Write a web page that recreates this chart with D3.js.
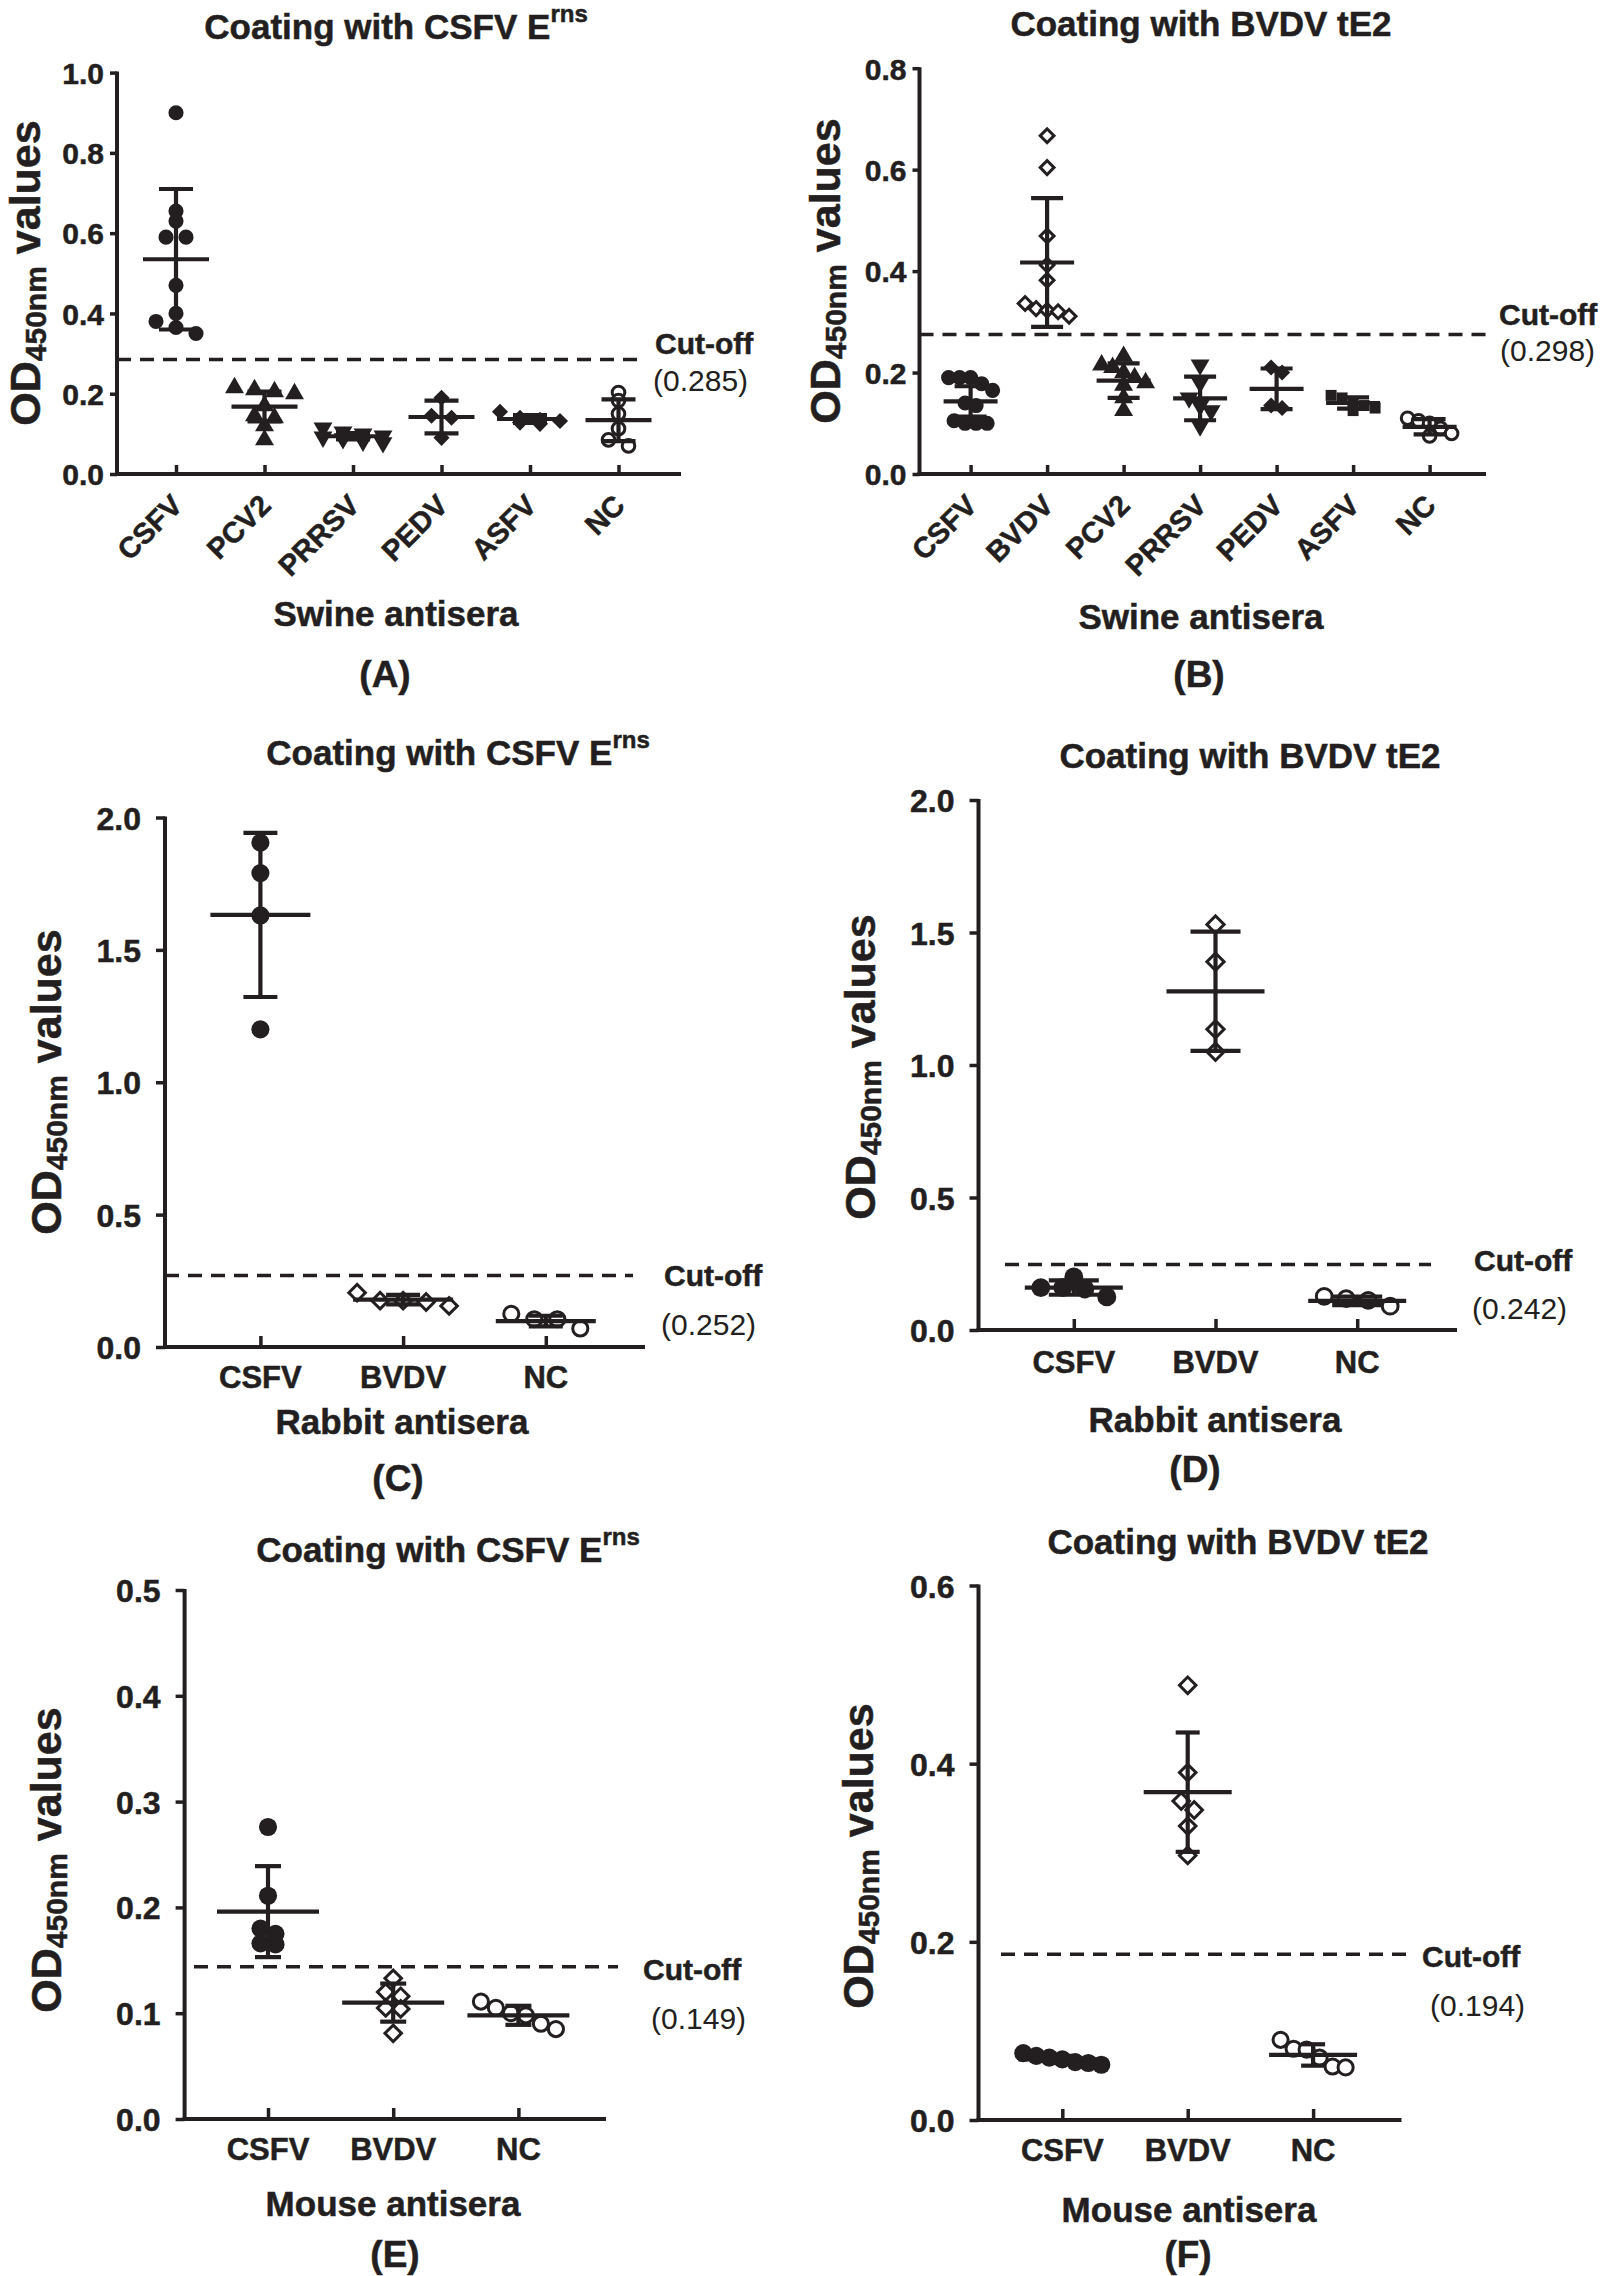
<!DOCTYPE html>
<html><head><meta charset="utf-8">
<script src="https://cdn.jsdelivr.net/npm/d3@7"></script>
<style>
html,body{margin:0;padding:0;background:#fff;}
svg{display:block;}
text{font-family:"Liberation Sans",Arial,Helvetica,sans-serif;fill:#231f20;}
</style></head>
<body>
<svg id="chart" width="1600" height="2276"></svg>
<script>
// ---------------- DATA ----------------
const panelLetters = ["(A)","(B)","(C)","(D)","(E)","(F)"];
const titleMain = ["Coating with CSFV E","Coating with BVDV tE2","Coating with CSFV E","Coating with BVDV tE2","Coating with CSFV E","Coating with BVDV tE2"];
const titleSup  = ["rns","","rns","","rns",""];
const xTitles   = ["Swine antisera","Swine antisera","Rabbit antisera","Rabbit antisera","Mouse antisera","Mouse antisera"];

const catsA = ["CSFV","PCV2","PRRSV","PEDV","ASFV","NC"];
const catsB = ["CSFV","BVDV","PCV2","PRRSV","PEDV","ASFV","NC"];
const catsC = ["CSFV","BVDV","NC"];
const catsD = ["CSFV","BVDV","NC"];
const catsE = ["CSFV","BVDV","NC"];
const catsF = ["CSFV","BVDV","NC"];

const symA = ["dot","triUp","triDown","diamond","diamond","ring"];
const symB = ["dot","openDiamond","triUp","triDown","diamond","square","ring"];
const symCF = ["dot","openDiamond","ring"];

// individual OD450nm values per group
const valuesA = [
  [0.90,0.655,0.63,0.59,0.59,0.47,0.40,0.38,0.365,0.35],
  [0.215,0.21,0.205,0.20,0.17,0.145,0.14,0.12,0.085],
  [0.115,0.105,0.10,0.095,0.092,0.088,0.082,0.078],
  [0.19,0.145,0.14,0.09],
  [0.155,0.14,0.135,0.132,0.128,0.125],
  [0.203,0.183,0.15,0.113,0.085,0.07]
];
const meansA = [0.535,0.168,0.094,0.142,0.137,0.134];
const sdsA   = [0.175,0.037,0.008,0.041,0.010,0.052];

const valuesB = [
  [0.19,0.19,0.19,0.178,0.165,0.14,0.135,0.105,0.10,0.10,0.10],
  [0.667,0.604,0.469,0.412,0.382,0.336,0.326,0.323,0.32,0.311],
  [0.232,0.215,0.21,0.20,0.19,0.18,0.175,0.15,0.125],
  [0.215,0.18,0.15,0.135,0.125,0.095],
  [0.21,0.20,0.135,0.13],
  [0.155,0.15,0.14,0.135,0.13,0.125],
  [0.11,0.105,0.10,0.09,0.08,0.075]
];
const meansB = [0.143,0.417,0.184,0.149,0.168,0.140,0.093];
const sdsB   = [0.030,0.127,0.034,0.043,0.040,0.011,0.015];

const valuesC = [[1.905,1.79,1.63,1.20],[0.205,0.175,0.175,0.17,0.155],[0.125,0.105,0.105,0.07]];
const meansC = [1.632,0.179,0.098];
const sdsC   = [0.310,0.018,0.020];

const valuesD = [[0.20,0.16,0.16,0.155,0.125],[1.53,1.39,1.135,1.05],[0.127,0.118,0.112,0.09]];
const meansD = [0.160,1.278,0.110];
const sdsD   = [0.027,0.225,0.016];

const valuesE = [[0.276,0.211,0.18,0.175,0.166,0.165],[0.133,0.12,0.116,0.105,0.104,0.081],[0.111,0.105,0.10,0.098,0.09,0.085]];
const meansE = [0.196,0.110,0.098];
const sdsE   = [0.043,0.018,0.009];

const valuesF = [[0.075,0.072,0.07,0.068,0.065,0.064,0.062],[0.488,0.39,0.358,0.348,0.33,0.297],[0.09,0.08,0.079,0.07,0.06,0.059]];
const meansF = [0.068,0.368,0.073];
const sdsF   = [0.004,0.067,0.012];

const yTicksA = [0,0.2,0.4,0.6,0.8,1.0];
const yTicksB = [0,0.2,0.4,0.6,0.8];
const yTicksC = [0,0.5,1.0,1.5,2.0];
const yTicksD = [0,0.5,1.0,1.5,2.0];
const yTicksE = [0,0.1,0.2,0.3,0.4,0.5];
const yTicksF = [0,0.2,0.4,0.6];

const cutoffLines  = [0.285,0.275,0.27,0.247,0.144,0.186];
const cutoffLabels = ["(0.285)","(0.298)","(0.252)","(0.242)","(0.149)","(0.194)"];

// ---------------- LAYOUT ----------------
const layout = [
 {ax:117, y0:474, yTop:72.6, c0:176, step:88.5, axEnd:681, dash:[117,640], tick:7, pad:6, tf:30, cf:29, rot:true,
  title:[396,26], yt:[25,273], xt:[396,613], let:[385,674], cut:[655,343], par:[653,380], mhw:33, chw:17,
  s:20, h:8, maxN:4, ms:1},
 {ax:919.5, y0:474, yTop:68.2, c0:970.6, step:76.5, axEnd:1486, dash:[919.5,1491], tick:7, pad:6, tf:30, cf:29, rot:true,
  title:[1201,23], yt:[825,271], xt:[1201,616], let:[1199,674], cut:[1499,314], par:[1500,350], mhw:27, chw:16,
  s:11, h:8, maxN:5, ms:1},
 {ax:165, y0:1347, yTop:817.5, c0:260.4, step:142.7, axEnd:645, dash:[165,633], tick:9, pad:15, tf:32, cf:31, rot:false, catY:1377,
  title:[458,752], yt:[46,1082], xt:[402,1421], let:[398,1478], cut:[664,1275], par:[661,1324], mhw:50, chw:17,
  s:23, h:10, maxN:6, ms:1.2},
 {ax:978.5, y0:1330, yTop:800, c0:1073.8, step:141.7, axEnd:1457, dash:[1005,1431], tick:9, pad:15, tf:32, cf:31, rot:false, catY:1362,
  title:[1250,755], yt:[860,1067], xt:[1215,1419], let:[1195,1469], cut:[1474,1260], par:[1472,1308], mhw:49, chw:25,
  s:22, h:9, maxN:6, ms:1.25},
 {ax:184.6, y0:2119, yTop:1590, c0:268, step:125.2, axEnd:606, dash:[194,618], tick:9, pad:15, tf:32, cf:31, rot:false, catY:2149,
  title:[448,1549], yt:[46,1860], xt:[393,2203], let:[395,2254], cut:[643,1969], par:[651,2018], mhw:51, chw:13,
  s:15, h:9, maxN:6, ms:1.2},
 {ax:978.5, y0:2120, yTop:1585.5, c0:1062.3, step:125.4, axEnd:1401.5, dash:[1001,1410], tick:9, pad:15, tf:32, cf:31, rot:false, catY:2150,
  title:[1238,1541], yt:[858,1856], xt:[1189,2209], let:[1188,2254], cut:[1422,1956], par:[1430,2005], mhw:44, chw:12,
  s:13, h:9.5, maxN:7, ms:1.2}
];

const panels = [
 {cats:catsA, vals:valuesA, means:meansA, sds:sdsA, ticks:yTicksA, sym:symA},
 {cats:catsB, vals:valuesB, means:meansB, sds:sdsB, ticks:yTicksB, sym:symB},
 {cats:catsC, vals:valuesC, means:meansC, sds:sdsC, ticks:yTicksC, sym:symCF},
 {cats:catsD, vals:valuesD, means:meansD, sds:sdsD, ticks:yTicksD, sym:symCF},
 {cats:catsE, vals:valuesE, means:meansE, sds:sdsE, ticks:yTicksE, sym:symCF},
 {cats:catsF, vals:valuesF, means:meansF, sds:sdsF, ticks:yTicksF, sym:symCF}
];

const INK = "#231f20";
const svg = d3.select("#chart");

// rows of near-equal values are spread horizontally (GraphPad-like scatter)
function spread(vals, y, s, h, maxN){
  const order = vals.map((v,i)=>i).sort((a,b)=>vals[b]-vals[a]);
  const offs = new Array(vals.length).fill(0);
  let row = [];
  const flush = () => { row.forEach((idx,j)=>{ offs[idx] = (j-(row.length-1)/2)*s; }); row = []; };
  order.forEach((idx,k)=>{
    if (k>0 && (Math.abs(y(vals[idx]) - y(vals[order[k-1]])) >= h || row.length >= maxN)) flush();
    row.push(idx);
  });
  flush();
  return offs;
}

function drawMarker(g, type, x, y, ms){
  let path, fill = INK, stroke = "none", sw = 0;
  const a = ms*ms;
  if (type==="dot"){ path = d3.symbol(d3.symbolCircle, 180*a)(); }
  else if (type==="ring"){ path = d3.symbol(d3.symbolCircle, 125*a)(); fill="#fff"; stroke=INK; sw=3; }
  else if (type==="triUp"){ path = d3.symbol(d3.symbolTriangle, 155*a)(); }
  else if (type==="triDown"){ path = d3.symbol(d3.symbolTriangle, 155*a)(); }
  else if (type==="square"){ path = d3.symbol(d3.symbolSquare, 120*a)(); }
  else if (type==="diamond"){ path = d3.symbol(d3.symbolSquare, 130*a)(); }
  else if (type==="openDiamond"){ path = d3.symbol(d3.symbolSquare, 95*a)(); fill="#fff"; stroke=INK; sw=3; }
  let rot = 0;
  if (type==="diamond"||type==="openDiamond") rot = 45;
  if (type==="triDown") rot = 180;
  g.append("path").attr("d", path)
   .attr("transform", `translate(${x},${y}) rotate(${rot})`)
   .attr("fill", fill).attr("stroke", stroke).attr("stroke-width", sw);
}

function boldText(sel){ return sel.attr("font-weight","bold").attr("stroke", INK).attr("stroke-width", 0.5); }

panels.forEach((p, pi) => {
  const L = layout[pi];
  const yMax = p.ticks[p.ticks.length-1];
  const y = d3.scaleLinear().domain([0, yMax]).range([L.y0, L.yTop]);
  const x = d3.scalePoint().domain(p.cats).range([L.c0, L.c0 + (p.cats.length-1)*L.step]);
  const g = svg.append("g");

  // y axis
  const ya = g.append("g").attr("transform", `translate(${L.ax},0)`)
    .call(d3.axisLeft(y).tickValues(p.ticks).tickFormat(d3.format(".1f")).tickSize(L.tick).tickSizeOuter(0).tickPadding(L.pad));
  ya.select(".domain").attr("stroke", INK).attr("stroke-width", 4).attr("d", `M0,${L.y0+2}V${L.yTop-1}`);
  ya.selectAll(".tick line").attr("stroke", INK).attr("stroke-width", 3.5);
  boldText(ya.selectAll(".tick text").attr("font-size", L.tf)
    .attr("font-family", '"Liberation Sans",Arial,sans-serif').attr("fill", INK).attr("dy","0.36em"));

  // x axis (ticks point up)
  const xa = g.append("g").attr("transform", `translate(0,${L.y0})`)
    .call(d3.axisBottom(x).tickSize(-L.tick-2).tickSizeOuter(0).tickPadding(0));
  xa.select(".domain").remove();
  xa.selectAll(".tick line").attr("stroke", INK).attr("stroke-width", 3.5);
  xa.selectAll(".tick text").remove();
  g.append("line").attr("x1", L.ax-2).attr("x2", L.axEnd).attr("y1", L.y0).attr("y2", L.y0)
    .attr("stroke", INK).attr("stroke-width", 4);

  // category labels
  p.cats.forEach(c => {
    if (L.rot){
      boldText(g.append("text").attr("transform", `translate(${x(c)+1},${L.y0+26}) rotate(-45)`)
        .attr("text-anchor","end").attr("dominant-baseline","central")
        .attr("font-size", L.cf)).text(c);
    } else {
      boldText(g.append("text").attr("x", x(c)).attr("y", L.catY).attr("text-anchor","middle")
        .attr("dominant-baseline","central").attr("font-size", L.cf)).text(c);
    }
  });

  // cut-off line
  g.append("line").attr("x1", L.dash[0]).attr("x2", L.dash[1])
    .attr("y1", y(cutoffLines[pi])).attr("y2", y(cutoffLines[pi]))
    .attr("stroke", INK).attr("stroke-width", 3.5).attr("stroke-dasharray", "14 9");
  boldText(g.append("text").attr("x", L.cut[0]).attr("y", L.cut[1]).attr("dominant-baseline","central")
    .attr("font-size", 30)).text("Cut-off");
  g.append("text").attr("x", L.par[0]).attr("y", L.par[1]).attr("dominant-baseline","central")
    .attr("font-size", 30).text(cutoffLabels[pi]);

  // points
  p.cats.forEach((c, ci) => {
    const vals = p.vals[ci];
    const offs = spread(vals, y, L.s, L.h, L.maxN);
    vals.forEach((v, i) => drawMarker(g, p.sym[ci], x(c) + offs[i], y(v), L.ms));
  });

  // mean and SD bars
  p.cats.forEach((c, ci) => {
    const cx = x(c), m = p.means[ci], sd = p.sds[ci];
    const line = (x1,y1,x2,y2) => g.append("line").attr("x1",x1).attr("y1",y1).attr("x2",x2).attr("y2",y2)
      .attr("stroke", INK).attr("stroke-width", 4.2);
    line(cx, y(m+sd), cx, y(m-sd));
    line(cx-L.chw, y(m+sd), cx+L.chw, y(m+sd));
    line(cx-L.chw, y(m-sd), cx+L.chw, y(m-sd));
    line(cx-L.mhw, y(m), cx+L.mhw, y(m));
  });

  // titles
  const t = boldText(g.append("text").attr("x", L.title[0]).attr("y", L.title[1]).attr("text-anchor","middle")
    .attr("dominant-baseline","central").attr("font-size", 35));
  t.append("tspan").text(titleMain[pi]);
  if (titleSup[pi]) t.append("tspan").attr("font-size", 24).attr("dy", -13).text(titleSup[pi]);

  const yt = boldText(g.append("text").attr("transform", `translate(${L.yt[0]},${L.yt[1]}) rotate(-90)`)
    .attr("text-anchor","middle").attr("dominant-baseline","central").attr("font-size", 43));
  yt.append("tspan").text("OD");
  yt.append("tspan").attr("font-size", 30).attr("dy", 10).text("450nm");
  yt.append("tspan").attr("dy", -10).text(" values");

  boldText(g.append("text").attr("x", L.xt[0]).attr("y", L.xt[1]).attr("text-anchor","middle").attr("dominant-baseline","central")
    .attr("font-size", 35)).text(xTitles[pi]);
  boldText(g.append("text").attr("x", L.let[0]).attr("y", L.let[1]).attr("text-anchor","middle").attr("dominant-baseline","central")
    .attr("font-size", 37)).text(panelLetters[pi]);
});
</script>
</body></html>
